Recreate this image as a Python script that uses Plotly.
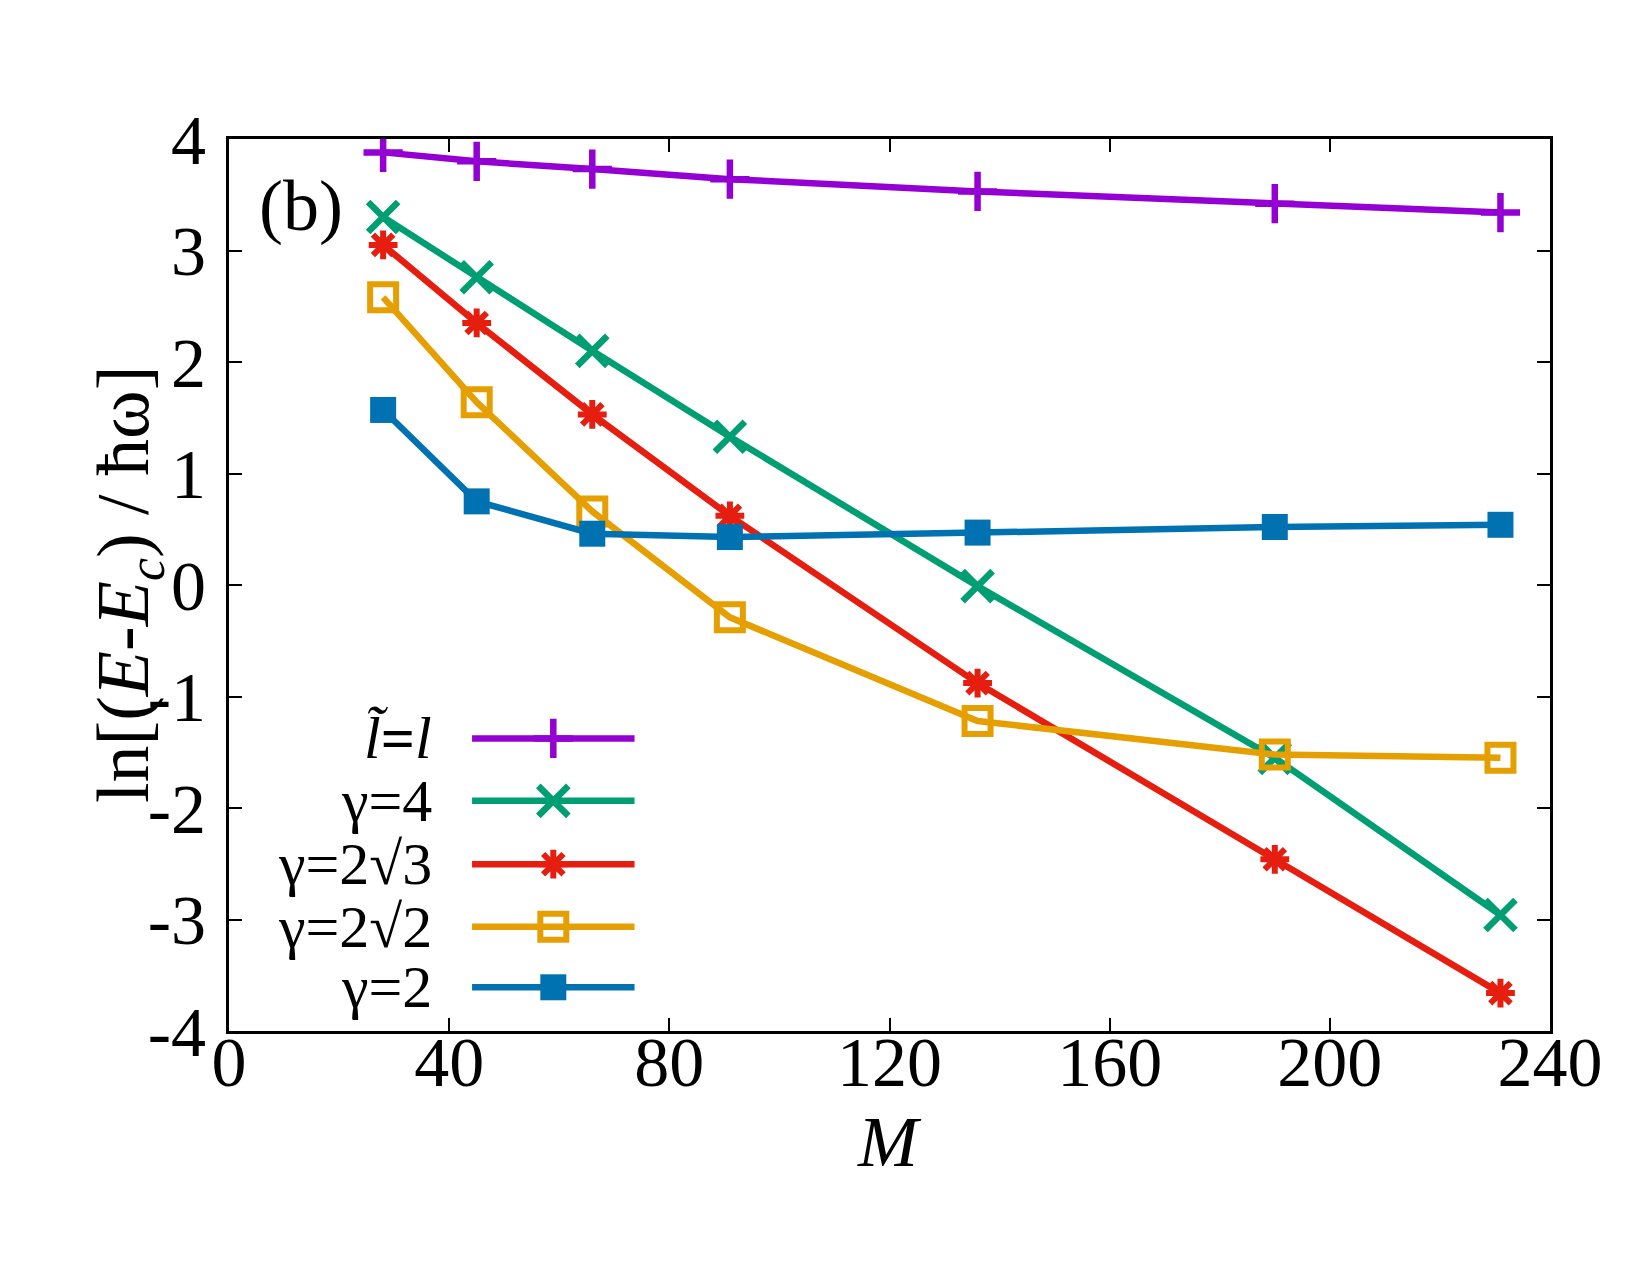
import plotly.graph_objects as go

M = [28, 45, 66, 91, 136, 190, 231]
y_ltilde = [3.88, 3.80, 3.73, 3.64, 3.53, 3.42, 3.34]
y_g4 = [3.30, 2.76, 2.10, 1.33, -0.01, -1.55, -2.96]
y_g2s3 = [3.05, 2.35, 1.53, 0.62, -0.88, -2.46, -3.66]
y_g2s2 = [2.58, 1.64, 0.66, -0.29, -1.22, -1.52, -1.55]
y_g2 = [1.57, 0.75, 0.46, 0.43, 0.47, 0.52, 0.54]

names = ["<i>l\u0303</i><b>=</b><i>l</i>", "γ=4", "γ=2√3", "γ=2√2", "γ=2"]
series = [y_ltilde, y_g4, y_g2s3, y_g2s2, y_g2]
colors = ["#9400d3", "#009e73", "#e51e10", "#e69f00", "#0072b2"]
symbols = ["cross-thin", "x-thin", "asterisk", "square-open", "square"]
sizes = [28, 30, 24, 26, 26]
mlw = [6.5, 6.5, 6, 6, 0]

x_ticks = [0, 40, 80, 120, 160, 200, 240]
y_ticks = [-4, -3, -2, -1, 0, 1, 2, 3, 4]
y_ticktext = ["-4", "-3", "-2", "-1", "0", "1", "2", "3", "4"]

FONT = "Liberation Serif"
PLOT_L, PLOT_R, PLOT_T, PLOT_B = 229, 1550, 139, 1031
PW, PH = PLOT_R - PLOT_L, PLOT_B - PLOT_T

fig = go.Figure()
for ys, c, s, sz, lw in zip(series, colors, symbols, sizes, mlw):
    fig.add_trace(go.Scatter(
        x=M, y=ys, mode="lines+markers",
        line=dict(color=c, width=6.5),
        marker=dict(symbol=s, size=sz, color=c, line=dict(color=c, width=lw)),
        showlegend=False))

# custom legend (text left, sample right), in an overlay axis spanning the plot area
leg_y = [0.328, 0.258, 0.187, 0.117, 0.049]
for nm, c, s, sz, lw, ly in zip(names, colors, symbols, sizes, mlw, leg_y):
    fig.add_trace(go.Scatter(
        x=[0.184, 0.307], y=[ly, ly], mode="lines",
        line=dict(color=c, width=6.5), xaxis="x2", yaxis="y2", showlegend=False))
    fig.add_trace(go.Scatter(
        x=[0.2455], y=[ly], mode="markers",
        marker=dict(symbol=s, size=sz, color=c, line=dict(color=c, width=lw)),
        xaxis="x2", yaxis="y2", showlegend=False))
    fig.add_annotation(x=0.155, y=ly, xref="x2", yref="y2", text=nm,
                       showarrow=False, xanchor="right", yanchor="middle",
                       font=dict(family=FONT, size=60, color="black"))

fig.add_annotation(x=0.021, y=0.925, xref="paper", yref="paper", text="(b)",
                   showarrow=False, xanchor="left", yanchor="middle",
                   font=dict(family=FONT, size=72, color="black"))

# y-axis title placed as rotated text
fig.add_annotation(x=(128 - PLOT_L) / PW, y=0.5, xref="paper", yref="paper",
                   text="ln[(<i>E</i>-<i>E</i><sub><i>c</i></sub>) / ħω]",
                   showarrow=False, textangle=-90, xanchor="center", yanchor="middle",
                   font=dict(family=FONT, size=74, color="black"))

# x-axis title
fig.add_annotation(x=0.5, y=-(1142 - PLOT_B) / PH, xref="paper", yref="paper",
                   text="<i>M</i>", showarrow=False, xanchor="center", yanchor="middle",
                   font=dict(family=FONT, size=72, color="black"))

axis_common = dict(
    showgrid=False, zeroline=False, showline=True, linecolor="black",
    linewidth=3, mirror="allticks", ticks="inside", ticklen=13,
    tickwidth=2, tickcolor="black",
    tickfont=dict(family=FONT, size=70, color="black"))

fig.update_layout(
    width=1650, height=1275,
    margin=dict(l=PLOT_L, r=1650 - PLOT_R, t=PLOT_T, b=1275 - PLOT_B),
    paper_bgcolor="white", plot_bgcolor="white",
    xaxis=dict(range=[0, 240], tickvals=x_ticks, ticklabelstandoff=-32,
               **axis_common),
    yaxis=dict(range=[-4, 4], tickvals=y_ticks, ticktext=y_ticktext, ticklabelstandoff=6,
               **axis_common),
    xaxis2=dict(domain=[0, 1], range=[0, 1], visible=False, overlaying="x", anchor="y2"),
    yaxis2=dict(domain=[0, 1], range=[0, 1], visible=False, overlaying="y", anchor="x2"),
)

fig.write_html("out.html")
